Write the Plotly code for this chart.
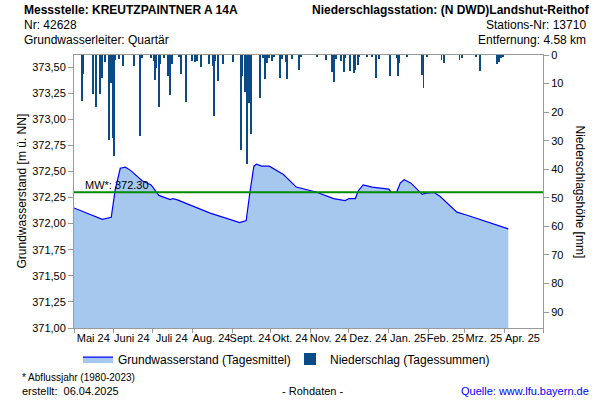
import plotly.graph_objects as go

# ---------------- data ----------------
gw_dates = ["2024-05-01", "2024-05-23", "2024-05-30", "2024-06-02", "2024-06-06", "2024-06-10",
            "2024-06-14", "2024-06-23", "2024-06-30", "2024-07-06", "2024-07-15", "2024-07-17",
            "2024-07-20", "2024-08-15", "2024-09-07", "2024-09-12", "2024-09-15", "2024-09-18",
            "2024-09-20", "2024-09-24", "2024-09-30", "2024-10-11", "2024-10-21", "2024-10-24",
            "2024-11-01", "2024-11-06", "2024-11-19", "2024-11-28", "2024-12-01", "2024-12-06",
            "2024-12-08", "2024-12-12", "2024-12-19", "2025-01-01", "2025-01-03", "2025-01-07",
            "2025-01-10", "2025-01-13", "2025-01-18", "2025-01-24", "2025-01-27", "2025-01-29",
            "2025-02-05", "2025-02-10", "2025-02-23", "2025-03-03", "2025-03-18", "2025-03-29",
            "2025-04-04"]
gw_values = [372.15, 372.04, 372.06, 372.32, 372.53, 372.54,
             372.51, 372.41, 372.37, 372.27, 372.23, 372.24,
             372.23, 372.10, 372.01, 372.03, 372.31, 372.55,
             372.57, 372.55, 372.55, 372.47, 372.35, 372.34,
             372.32, 372.30, 372.24, 372.22, 372.24, 372.24,
             372.31, 372.37, 372.35, 372.33, 372.30, 372.30,
             372.39, 372.42, 372.39, 372.32, 372.28, 372.29,
             372.30, 372.26, 372.11, 372.08, 372.02, 371.98,
             371.95]

ns_dates = ["2024-05-07", "2024-05-08", "2024-05-16", "2024-05-18", "2024-05-21", "2024-05-23",
            "2024-05-25", "2024-05-28", "2024-05-29", "2024-05-30", "2024-05-31", "2024-06-01",
            "2024-06-02", "2024-06-05", "2024-06-08", "2024-06-17", "2024-06-21", "2024-06-23",
            "2024-06-30", "2024-07-02", "2024-07-03", "2024-07-04", "2024-07-06", "2024-07-07",
            "2024-07-10", "2024-07-13", "2024-07-15", "2024-07-16", "2024-07-22", "2024-07-23",
            "2024-07-27", "2024-08-01", "2024-08-03", "2024-08-05", "2024-08-08", "2024-08-14",
            "2024-08-17", "2024-08-18", "2024-08-19", "2024-08-21", "2024-08-25", "2024-09-02",
            "2024-09-08", "2024-09-09", "2024-09-11", "2024-09-12", "2024-09-13", "2024-09-14",
            "2024-09-15", "2024-09-16", "2024-09-23", "2024-09-25", "2024-09-27", "2024-09-28",
            "2024-09-30", "2024-10-02", "2024-10-04", "2024-10-08", "2024-10-10", "2024-10-13",
            "2024-10-14", "2024-10-18", "2024-10-23", "2024-10-25", "2024-11-06", "2024-11-13",
            "2024-11-18", "2024-11-19", "2024-11-21", "2024-11-25", "2024-11-27", "2024-11-28",
            "2024-12-02", "2024-12-05", "2024-12-06", "2024-12-08", "2024-12-09", "2024-12-15",
            "2024-12-19", "2024-12-22", "2024-12-24", "2025-01-02", "2025-01-07", "2025-01-08",
            "2025-01-09", "2025-01-15", "2025-01-27", "2025-01-28", "2025-01-31", "2025-02-11",
            "2025-02-13", "2025-02-25", "2025-02-27", "2025-03-10", "2025-03-13", "2025-03-26",
            "2025-03-28", "2025-03-29", "2025-03-31"]
ns_values = [16.2, 6.7, 13.7, 18.2, 13.7, 8.1,
             2.6, 29.9, 4.0, 9.8, 29.1, 35.5,
             1.6, 1.5, 3.7, 4.0, 28.5, 1.0,
             1.0, 2.0, 8.9, 4.6, 18.2, 3.3,
             1.0, 7.2, 13.9, 3.0, 0.8, 6.5,
             16.6, 2.0, 2.6, 2.0, 4.2, 3.3,
             4.0, 21.5, 2.0, 9.2, 3.3, 2.3,
             33.4, 7.5, 13.1, 6.9, 38.1, 16.8,
             15.6, 27.7, 15.1, 1.0, 8.4, 2.9,
             1.0, 2.0, 0.8, 8.1, 1.3, 2.3,
             8.4, 1.3, 5.4, 0.5, 0.5, 1.8,
             6.1, 9.5, 1.3, 2.1, 6.1, 1.0,
             5.7, 6.3, 5.2, 3.4, 0.8, 0.5,
             0.8, 8.1, 1.4, 7.2, 1.0, 7.2,
             2.8, 0.7, 6.9, 11.6, 0.5, 1.8,
             2.9, 1.8, 1.0, 0.5, 5.7, 3.3,
             2.6, 1.0, 0.5]

month_label_dates = ["2024-05-16", "2024-06-15", "2024-07-16", "2024-08-16", "2024-09-15",
                     "2024-10-16", "2024-11-15", "2024-12-16", "2025-01-16", "2025-02-14",
                     "2025-03-16", "2025-04-15"]
month_labels = ["Mai 24", "Juni 24", "Juli 24", "Aug. 24", "Sept. 24", "Okt. 24",
                "Nov. 24", "Dez. 24", "Jan. 25", "Feb. 25", "Mrz. 25", "Apr. 25"]
gw_ticks = [371.00, 371.25, 371.50, 371.75, 372.00, 372.25, 372.50, 372.75, 373.00, 373.25, 373.50]
ns_ticks = [0, 10, 20, 30, 40, 50, 60, 70, 80, 90]
mw_value = 372.30

FONT = "Liberation Sans, Arial, sans-serif"
AXIS_GREY = "#9a9a9a"

fig = go.Figure()

fig.add_trace(go.Scatter(
    x=gw_dates, y=gw_values, mode="lines", fill="tozeroy",
    fillcolor="#a6c8ee", line=dict(color="#0000ff", width=1.2),
    name="Grundwasserstand (Tagesmittel)", yaxis="y", legend="legend"))

fig.add_trace(go.Bar(
    x=ns_dates, y=ns_values, width=86400000 * 0.75,
    marker=dict(color="#0a4a86", line=dict(width=0)),
    name="Niederschlag (Tagessummen)", yaxis="y2", legend="legend2"))

fig.add_shape(type="line", xref="paper", x0=0, x1=1, yref="y", y0=mw_value, y1=mw_value,
              line=dict(color="#008c00", width=2))
fig.add_annotation(xref="paper", x=0.019, yref="y", y=mw_value, text="MW*: 372.30",
                   showarrow=False, xanchor="left", yanchor="bottom", yshift=-1,
                   font=dict(family=FONT, size=11, color="#000"))

# header texts
hdr = [
    (22, 10, "<b>Messstelle: KREUTZPAINTNER A 14A</b>", "left"),
    (22, 25, "Nr: 42628", "left"),
    (22, 40, "Grundwasserleiter: Quartär", "left"),
    (592, 10, "<b>Niederschlagsstation: (N DWD)Landshut-Reithof</b>", "right"),
    (588, 25, "Stations-Nr: 13710", "right"),
    (588, 40, "Entfernung: 4.58 km", "right"),
]
for px, py, t, anc in hdr:
    fig.add_annotation(xref="paper", yref="paper",
                       x=(px - 74) / 469, y=(328 - py) / 273, text=t, showarrow=False,
                       xanchor=anc, yanchor="middle", font=dict(family=FONT, size=12, color="#000"))

# footer texts
ftr = [
    (20, 377, "* Abflussjahr (1980-2023)", "left", 10, "#000"),
    (20, 391, "erstellt:  06.04.2025", "left", 11, "#000"),
    (312, 391, "- Rohdaten -", "center", 11, "#000"),
    (591, 391, "Quelle: www.lfu.bayern.de", "right", 11, "#0000ff"),
]
for px, py, t, anc, fs, col in ftr:
    fig.add_annotation(xref="paper", yref="paper",
                       x=(px - 74) / 469, y=(328 - py) / 273, text=t, showarrow=False,
                       xanchor=anc, yanchor="middle", font=dict(family=FONT, size=fs, color=col))

# right axis title (reads top to bottom)
fig.add_annotation(xref="paper", yref="paper", x=(580 - 74) / 469, y=0.5,
                   text="Niederschlagshöhe [mm]", textangle=90, showarrow=False,
                   xanchor="center", yanchor="middle", font=dict(family=FONT, size=12, color="#000"))
# left axis title
fig.add_annotation(xref="paper", yref="paper", x=(21 - 74) / 469, y=0.5,
                   text="Grundwasserstand [m ü. NN]", textangle=-90, showarrow=False,
                   xanchor="center", yanchor="middle", font=dict(family=FONT, size=12, color="#000"))

legend_common = dict(orientation="h", yanchor="middle", y=-0.114, xanchor="left",
                     font=dict(family=FONT, size=12, color="#000"), itemwidth=30,
                     bgcolor="rgba(0,0,0,0)", borderwidth=0)

fig.update_layout(
    width=600, height=400,
    margin=dict(l=74, r=57, t=55, b=72, autoexpand=False),
    paper_bgcolor="white", plot_bgcolor="white",
    separators=",.",
    font=dict(family=FONT, size=11, color="#000"),
    bargap=0,
    showlegend=True,
    legend=dict(legend_common, x=(118 - 40 - 74) / 469),
    legend2=dict(legend_common, x=(330 - 40 - 74) / 469),
    xaxis=dict(
        type="date", range=["2024-05-01", "2025-05-01"],
        tickmode="array", tickvals=month_label_dates, ticktext=month_labels,
        tickangle=0, automargin=False,
        ticks="", showgrid=False, zeroline=False,
        showline=True, linecolor=AXIS_GREY, linewidth=1, mirror=True,
        tickfont=dict(family=FONT, size=11, color="#000"),
        minor=dict(ticks="outside", tickmode="linear", tick0="2024-05-01", dtick="M1",
                   ticklen=4, tickcolor=AXIS_GREY, showgrid=False),
    ),
    yaxis=dict(
        range=[371.0, 373.615], tickmode="array", tickvals=gw_ticks, tickformat=".2f",
        ticks="outside", ticklen=5, tickcolor=AXIS_GREY, automargin=False,
        showgrid=False, zeroline=False,
        showline=True, linecolor=AXIS_GREY, linewidth=1,
        tickfont=dict(family=FONT, size=11, color="#000"),
    ),
    yaxis2=dict(
        overlaying="y", side="right", range=[95.6, 0], automargin=False,
        tickmode="array", tickvals=ns_ticks,
        ticks="outside", ticklen=5, tickcolor=AXIS_GREY,
        showgrid=False, zeroline=False,
        showline=True, linecolor=AXIS_GREY, linewidth=1,
        tickfont=dict(family=FONT, size=11, color="#000"),
    ),
)

fig.write_html("out.html")
